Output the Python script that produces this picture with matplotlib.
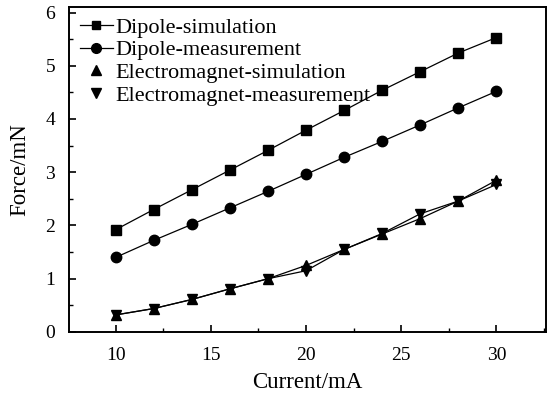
import matplotlib
matplotlib.use("Agg")
import matplotlib.pyplot as plt
from matplotlib.lines import Line2D
from matplotlib.ticker import MultipleLocator

plt.rcParams['font.family'] = ['Liberation Serif', 'DejaVu Serif']

current = [10, 12, 14, 16, 18, 20, 22, 24, 26, 28, 30]
dipole_sim = [1.92, 2.30, 2.67, 3.04, 3.41, 3.79, 4.16, 4.54, 4.89, 5.24, 5.53]
dipole_meas = [1.40, 1.72, 2.02, 2.33, 2.64, 2.96, 3.28, 3.58, 3.89, 4.21, 4.52]
em_sim = [0.32, 0.44, 0.61, 0.81, 1.00, 1.25, 1.55, 1.84, 2.13, 2.46, 2.85]
em_meas = [0.32, 0.44, 0.61, 0.81, 1.00, 1.15, 1.55, 1.85, 2.22, 2.46, 2.77]

labels = ["Dipole-simulation", "Dipole-measurement",
          "Electromagnet-simulation", "Electromagnet-measurement"]

fig = plt.figure(figsize=(5.56, 3.99), dpi=100)
ax = fig.add_axes([0.124, 0.168, 0.858, 0.814])

lw = 0.9
ax.plot(current, dipole_sim, color='black', lw=lw, marker='s', ms=6.5)
ax.plot(current, dipole_meas, color='black', lw=lw, marker='o', ms=7.5)
ax.plot(current, em_sim, color='black', lw=lw, marker='^', ms=7.5)
ax.plot(current, em_meas, color='black', lw=lw, marker='v', ms=7.5)

ax.set_xlim(7.55, 32.6)
ax.set_ylim(0, 6.1)
ax.xaxis.set_major_locator(MultipleLocator(5))
ax.xaxis.set_minor_locator(MultipleLocator(2.5))
ax.yaxis.set_major_locator(MultipleLocator(1))
ax.yaxis.set_minor_locator(MultipleLocator(0.5))
ax.tick_params(which='both', direction='in', top=False, right=False, labelsize=14)
ax.tick_params(which='major', length=5, width=1.2)
ax.tick_params(which='minor', length=3, width=1.0)
ax.tick_params(axis='y', pad=10)
ax.tick_params(axis='x', pad=11)
for s in ax.spines.values():
    s.set_linewidth(1.4)

ax.set_xlabel("Current/mA", fontsize=16.5, va='center')
ax.xaxis.set_label_coords(0.5, -0.157)
ax.set_ylabel("Force/mN", fontsize=16.5, va='center')
ax.yaxis.set_label_coords(-0.103, 0.5)

handles = [
    Line2D([], [], color='black', lw=lw, marker='s', ms=6),
    Line2D([], [], color='black', lw=lw, marker='o', ms=7),
    Line2D([], [], color='none', marker='^', ms=7, markerfacecolor='black', markeredgecolor='black'),
    Line2D([], [], color='none', marker='v', ms=7, markerfacecolor='black', markeredgecolor='black'),
]
ax.legend(handles, labels, loc='upper left', frameon=False, fontsize=16,
          handlelength=1.5, handletextpad=0.1, labelspacing=0.1,
          borderaxespad=0.0, bbox_to_anchor=(0.004, 0.997))

fig.savefig("out.png", dpi=100)
